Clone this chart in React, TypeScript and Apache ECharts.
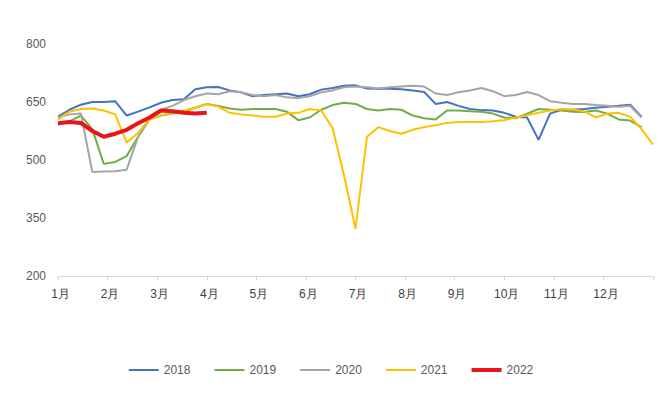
import React, { useEffect, useRef } from "react";
import * as echarts from "echarts";

const months = ["1月", "2月", "3月", "4月", "5月", "6月", "7月", "8月", "9月", "10月", "11月", "12月"];
const yTicks = [200, 350, 500, 650, 800];

const s2018 = [612, 630, 643, 650, 650, 652, 615, 625, 636, 648, 655, 657, 683, 688, 689, 680, 675, 665, 668, 670, 672, 665, 670, 682, 686, 692, 693, 685, 684, 684, 683, 680, 676, 645, 650, 640, 632, 629, 628, 622, 612, 610, 552, 620, 630, 630, 632, 635, 638, 640, 643, 612];
const s2019 = [592, 600, 615, 580, 490, 495, 510, 560, 605, 615, 620, 625, 635, 645, 640, 633, 630, 632, 632, 632, 625, 603, 610, 630, 642, 648, 645, 632, 628, 632, 630, 615, 608, 605, 628, 628, 626, 625, 620, 610, 608, 620, 632, 630, 628, 625, 624, 628, 620, 605, 602, 585];
const s2020 = [610, 618, 620, 469, 470, 471, 475, 560, 610, 630, 640, 655, 665, 672, 670, 678, 675, 668, 665, 668, 662, 660, 665, 675, 680, 688, 690, 688, 685, 688, 690, 692, 690, 672, 668, 675, 680, 686, 678, 665, 668, 676, 668, 652, 648, 645, 645, 642, 640, 638, 640, 610];
const s2021 = [605, 625, 632, 633, 628, 618, 545, 570, 605, 615, 622, 628, 635, 645, 638, 622, 618, 615, 612, 612, 620, 622, 632, 628, 582, 460, 322, 560, 585, 575, 568, 578, 585, 590, 596, 598, 598, 598, 600, 603, 610, 616, 622, 628, 632, 630, 626, 610, 620, 622, 612, 580, 540];
const s2022 = [595, 598, 596, 575, 560, 568, 578, 595, 610, 628, 626, 622, 620, 622];

const seriesNames = ["2018", "2019", "2020", "2021", "2022"];
const seriesData = [s2018, s2019, s2020, s2021, s2022];
const colors = ["#4472C4", "#70AD47", "#A5A5A5", "#FFC000", "#E8141B"];
const widths = [2, 2, 2, 2, 4];

export default function App() {
  const ref = useRef<HTMLDivElement>(null);
  useEffect(() => {
    if (!ref.current) return;
    const chart = echarts.init(ref.current, undefined, { renderer: "svg" });
    chart.setOption({
      animation: false,
      backgroundColor: "#ffffff",
      textStyle: { fontFamily: "Liberation Sans, Arial, sans-serif" },
      graphic: [
        {
          type: "line",
          shape: { x1: 9, y1: 4, x2: 662, y2: 4 },
          style: { stroke: "#1F3A93", lineWidth: 2 },
        },
      ],
      grid: { left: 58, right: 9, top: 44, bottom: 125, containLabel: false },
      legend: {
        bottom: 20,
        left: "center",
        itemWidth: 30,
        itemHeight: 10,
        itemGap: 24,
        icon: "rect",
        textStyle: { color: "#595959", fontSize: 12 },
        data: seriesNames.map((n, i) => ({
          name: n,
          icon: `path://M0,${i === 4 ? 3 : 4}L30,${i === 4 ? 3 : 4}L30,${i === 4 ? 7 : 6}L0,${i === 4 ? 7 : 6}Z`,
        })),
      },
      xAxis: {
        type: "value",
        min: 0,
        max: 12,
        interval: 1,
        axisLine: { show: true, lineStyle: { color: "#D9D9D9", width: 1 } },
        axisTick: { show: true, length: 4, lineStyle: { color: "#D9D9D9" } },
        splitLine: { show: false },
        axisLabel: {
          color: "#404040",
          fontSize: 12,
          margin: 12,
          padding: [0, 0, 0, 5],
          formatter: (v: number) => (v < 12 ? months[v] : ""),
        },
      },
      yAxis: {
        type: "value",
        min: yTicks[0],
        max: yTicks[yTicks.length - 1],
        interval: 150,
        axisLine: { show: false },
        axisTick: { show: false },
        splitLine: { show: false },
        axisLabel: { color: "#595959", fontSize: 12, margin: 12 },
      },
      series: seriesData.map((d, si) => ({
        name: seriesNames[si],
        type: "line",
        showSymbol: false,
        symbol: "none",
        color: colors[si],
        lineStyle: { width: widths[si], color: colors[si] },
        z: si === 4 ? 10 : 2,
        data: d.map((v, i) => [(i * 12) / 52, v]),
      })),
    });
    return () => chart.dispose();
  }, []);
  return <div ref={ref} style={{ width: 662, height: 401, margin: -8 }} />;
}
